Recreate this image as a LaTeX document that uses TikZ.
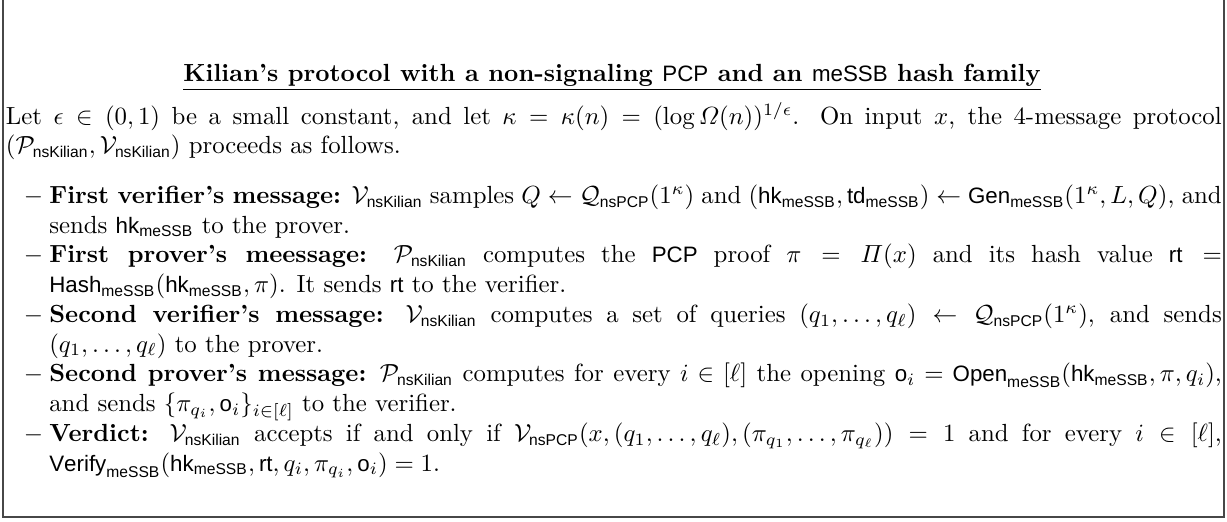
\documentclass[tikz,border=0pt]{standalone}
\usepackage{amsmath}
\usepackage{fontspec}
\setsansfont{Liberation Sans}[Scale=0.9]

% sans-serif names used in the protocol
\newcommand{\nsK}{\mathsf{nsKilian}}
\newcommand{\nsP}{\mathsf{nsPCP}}
\newcommand{\mes}{\mathsf{meSSB}}
\newcommand{\hkm}{\mathsf{hk}_{\mes}}
\newcommand{\PK}{\mathcal{P}_{\nsK}}
\newcommand{\VK}{\mathcal{V}_{\nsK}}

\tikzset{
  frame/.style={draw=black!72, line width=0.7pt},
  bodytext/.style={inner sep=0pt, text width=490.3pt, align=justify, anchor=base west},
  titletext/.style={inner sep=0pt, anchor=base}
}

\begin{document}
\begin{tikzpicture}
\useasboundingbox (0,0) rectangle (494.8pt,-210.1pt);

% open-topped frame
\coordinate (tl) at (1.2pt,0pt);
\coordinate (bl) at (1.2pt,-208.5pt);
\coordinate (br) at (493.5pt,-208.5pt);
\coordinate (tr) at (493.5pt,0pt);
\draw[frame] (tl) -- (bl) -- (br) -- (tr);

\node[titletext] (title) at (246.8pt,-32.7pt)
  {\underline{\textbf{Kilian's protocol with a non-signaling $\mathsf{PCP}$ and an $\mathsf{meSSB}$ hash family}}};

\node[bodytext] (body) at (2.2pt,-50pt) {%
Let $\epsilon \in (0,1)$ be a small constant, and let $\kappa = \kappa(n) = (\log \varOmega(n))^{1/\epsilon}$. On input $x$, the 4-message protocol\linebreak $(\PK, \VK)$ proceeds as follows.
\begin{list}{$-$}{\setlength\topsep{8pt}\setlength\partopsep{0pt}%
  \setlength\itemsep{0pt}\setlength\parsep{0pt}%
  \setlength\leftmargin{17.5pt}\setlength\labelwidth{15pt}\setlength\labelsep{2.5pt}}
\item \textbf{First verifier's message:} $\VK$ samples $Q \leftarrow \mathcal{Q}_{\nsP}(1^\kappa)$ and $(\hkm, \mathsf{td}_{\mes}) \leftarrow \mathsf{Gen}_{\mes}(1^\kappa, L, Q)$, and\linebreak sends $\hkm$ to the prover.
\item \textbf{First prover's meessage:} $\PK$ computes the $\mathsf{PCP}$ proof $\pi = \varPi(x)$ and its hash value $\mathsf{rt} =$\linebreak $\mathsf{Hash}_{\mes}(\hkm, \pi)$. It sends $\mathsf{rt}$ to the verifier.
\item \textbf{Second verifier's message:} $\VK$ computes a set of queries $(q_1, \ldots, q_\ell) \leftarrow \mathcal{Q}_{\nsP}(1^\kappa)$, and sends\linebreak $(q_1, \ldots, q_\ell)$ to the prover.
\item \textbf{Second prover's message:} $\PK$ computes for every $i \in [\ell]$ the opening $\mathsf{o}_i = \mathsf{Open}_{\mes}(\hkm, \pi, q_i)$,\linebreak and sends $\{\pi_{q_i}, \mathsf{o}_i\}_{i \in [\ell]}$ to the verifier.
\item \textbf{Verdict:} $\VK$ accepts if and only if $\mathcal{V}_{\nsP}(x, (q_1, \ldots, q_\ell), (\pi_{q_1}, \ldots, \pi_{q_\ell})) = 1$ and for every $i \in [\ell]$,\linebreak $\mathsf{Verify}_{\mes}(\hkm, \mathsf{rt}, q_i, \pi_{q_i}, \mathsf{o}_i) = 1$.
\end{list}};
\end{tikzpicture}
\end{document}
